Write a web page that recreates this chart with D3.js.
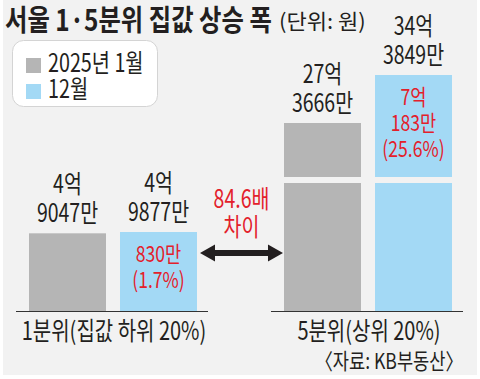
<!DOCTYPE html>
<html><head><meta charset="utf-8">
<script src="https://cdn.jsdelivr.net/npm/d3@7"></script>
<style>
html,body{margin:0;padding:0;background:#fff;}
svg{display:block;}
text{font-family:"Noto Sans CJK KR","Noto Sans",sans-serif;}
</style></head>
<body>
<svg id="c" width="480" height="379"></svg>
<script>
// ---- data (values in 만원) ----
const categories = ["1분위(집값 하위 20%)", "5분위(상위 20%)"];
const seriesNames = ["2025년 1월", "12월"];
const seriesKeys = ["jan", "dec"];
const jan = [49047, 273666];
const dec = [49877, 343849];
const changeLabels = [["830만", "(1.7%)"], ["7억", "183만", "(25.6%)"]];
const ratioLabels = ["84.6배", "차이"];
const titleText = "서울 1·5분위 집값 상승 폭";
const unitText = "(단위: 원)";
const sourceText = "〈자료: KB부동산〉";

const colors = {jan: "#b5b5b5", dec: "#a3d9f5"};
const RED = "#e3202b", INK = "#231f20", BG = "#f2f2f2";

const svg = d3.select("#c");
svg.append("rect").attr("x", 3).attr("y", 0).attr("width", 474).attr("height", 375).attr("fill", BG);

// condensed text: horizontal squeeze via transform
function txt(parent, x, y, str, o) {
  return parent.append("text")
    .attr("transform", `translate(${x},${y}) scale(${o.r || 0.8},1)`)
    .attr("text-anchor", o.anchor || "start")
    .attr("font-size", o.size)
    .attr("font-weight", o.weight || 400)
    .attr("fill", o.fill || INK)
    .text(str);
}

// title
txt(svg, 5, 31, titleText, {size: 29, weight: 700, r: 0.84});
txt(svg, 279, 29, unitText, {size: 21, r: 1.05});

// legend
svg.append("rect").attr("x", 12.5).attr("y", 40.5).attr("width", 145).attr("height", 66).attr("rx", 11)
  .attr("fill", "#fff").attr("stroke", "#d4d4d4");
seriesKeys.forEach((k, i) => {
  const yy = 58 + i * 26;
  svg.append("rect").attr("x", 26).attr("y", yy).attr("width", 15).attr("height", 15).attr("fill", colors[k]);
  txt(svg, 48, yy + 14, seriesNames[i], {size: 25, r: 0.79});
});

// scales
const x0 = d3.scaleBand().domain(categories).range([16, 463]).paddingInner(0.247);
const x1 = d3.scaleBand().domain(seriesKeys).range([13, 181]).paddingInner(0.154);
// broken value axis (piecewise)
const y = d3.scaleLinear().domain([0, 49877, 273666, 343849]).range([311, 232, 123, 75]);

const rows = categories.map((c, i) => ({cat: c, jan: jan[i], dec: dec[i], idx: i}));

const g = svg.append("g");
rows.forEach(r => {
  const gx = x0(r.cat);
  seriesKeys.forEach(k => {
    const v = r[k];
    const bx = gx + x1(k), bw = x1.bandwidth(), top = y(v);
    g.append("rect").attr("x", bx).attr("y", top).attr("width", bw).attr("height", y(0) - top)
      .attr("fill", colors[k]);
    const lines = [Math.floor(v / 10000) + "억", (v % 10000) + "만"];
    lines.forEach((t, j) => {
      txt(g, bx + bw / 2, top - 11 - (1 - j) * 29, t, {size: 25, r: 0.78, anchor: "middle"});
    });
    if (k === "dec") {
      changeLabels[r.idx].forEach((t, j) => {
        txt(g, bx + bw / 2, top + 30 + j * 26, t, {size: 22, r: 0.8, anchor: "middle", fill: RED});
      });
    }
  });
  // axis baseline
  g.append("line").attr("x1", gx).attr("x2", gx + x0.bandwidth()).attr("y1", 311.5).attr("y2", 311.5)
    .attr("stroke", "#333").attr("stroke-width", 1);
  txt(g, gx + x0.bandwidth() / 2 + 2, 340, r.cat, {size: 25, r: 0.8, anchor: "middle"});
});

// axis break on the tall group
const big = rows[1];
g.append("rect").attr("x", x0(big.cat)).attr("y", 177).attr("width", x0.bandwidth()).attr("height", 6).attr("fill", BG);

// double arrow between groups
const ax1 = x0(categories[0]) + x1("dec") + x1.bandwidth() + 3;
const ax2 = x0(categories[1]) + x1("jan") - 1;
const ay = 253;
const hl = 15, hh = 8.5, sw = 3;
g.append("path").attr("fill", "#231f20").attr("d",
  `M${ax1},${ay} L${ax1 + hl},${ay - hh} L${ax1 + hl},${ay - sw} L${ax2 - hl},${ay - sw} L${ax2 - hl},${ay - hh} L${ax2},${ay} L${ax2 - hl},${ay + hh} L${ax2 - hl},${ay + sw} L${ax1 + hl},${ay + sw} L${ax1 + hl},${ay + hh} Z`);
const mx = (ax1 + ax2) / 2;
ratioLabels.forEach((t, j) => {
  txt(g, mx, 208 + j * 28, t, {size: 25, r: 0.78, anchor: "middle", fill: RED});
});

// source
txt(svg, 463, 369, sourceText, {size: 22, r: 0.8, anchor: "end"});
</script>
</body></html>
